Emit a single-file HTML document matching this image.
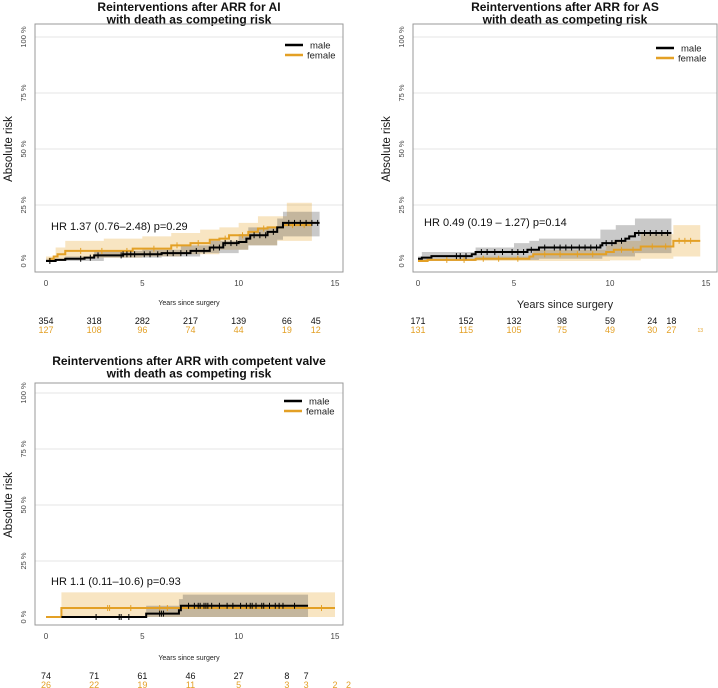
<!DOCTYPE html>
<html><head><meta charset="utf-8"><style>
body{margin:0;background:#fff}
svg{display:block;font-family:"Liberation Sans",sans-serif}
</style></head><body>
<svg id="c" width="718" height="688" viewBox="0 0 718 688"></svg>
<script>
// ---- Panel 1 data (AI) ----
const p1MaleSteps=[[0,0],[0.5,0.5],[1,1],[2,1.5],[2.5,2.5],[4,3],[6,3.5],[7.5,4.5],[8.5,6],[9.2,8],[10,8.5],[10.4,10],[10.6,11.5],[11.5,13],[12,15],[12.3,17],[14.2,17]];
const p1FemaleSteps=[[0,0],[0.2,1],[0.4,2],[0.6,3],[1,4.5],[3,4.5],[4.5,5.5],[6.5,7],[7.5,8],[8.5,9.5],[9,10],[9.5,11.5],[10.5,13],[11,14.5],[11.5,15],[12.3,16],[13.8,16]];
const p1MaleUpper=[[0,1],[1,2],[2.5,4.5],[5,5],[7,7],[8.5,9],[10,12],[10.5,15],[12,19],[12.3,22],[14.2,22]];
const p1MaleLower=[[0,0],[3,1.5],[6,2],[8,3.5],[10,5],[10.5,7],[12,9.5],[12.3,11],[14.2,11]];
const p1FemaleUpper=[[0,2],[0.5,6],[1,9],[3,10],[5,11],[6.5,12.5],[8,14],[9,15],[10,17],[11,20],[12.5,26],[13.8,26]];
const p1FemaleLower=[[0,0],[1,1.5],[5,2],[7,3],[9,5],[10.5,7],[12,9],[13.8,9]];
const p1MaleCens=[0.2,1.8,2.3,2.7,3.9,4.0,4.2,4.4,4.6,5.1,5.4,5.8,6.3,6.6,7.0,7.3,7.8,8.2,8.7,9.0,9.3,9.6,9.9,10.8,11.1,11.4,11.8,12.6,12.9,13.2,13.5,13.8,14.1];
const p1FemaleCens=[1.8,2.9,4.2,5.6,6.8,7.9,9.3,10.2,11.3,12.8,13.4];
const p1Times=[0,2.5,5,7.5,10,12.5,14];
const p1MaleRisk=["354","318","282","217","139","66","45"];
const p1FemaleRisk=["127","108","96","74","44","19","12"];
// ---- Panel 2 data (AS) ----
const p2MaleSteps=[[0,1],[0.2,1.5],[0.7,2.2],[2.8,3],[3,4],[5.7,5],[6.3,6],[9.5,7],[9.6,8],[10.3,9],[10.8,10],[11,11],[11.3,12.5],[13.2,12.5]];
const p2FemaleSteps=[[0,0],[0.5,0.5],[3,1],[5.8,2],[6,3],[9.8,4],[10.2,5],[11.6,6.5],[13.3,9],[14.7,9]];
const p2MaleUpper=[[0,2],[0.2,4],[3,6],[5,8],[5.8,9],[6.3,10],[9.5,14],[10.3,16],[11.3,19],[13.2,19]];
const p2MaleLower=[[0,0],[3,0.5],[6.3,1],[9.6,2],[11.3,3.5],[13.2,3.5]];
const p2FemaleUpper=[[0,1],[3,2],[6,5],[9.8,7],[10.2,9],[11.6,12],[13.3,16],[14.7,16]];
const p2FemaleLower=[[0,0],[10,0.3],[11.6,1],[13.3,2],[14.7,2]];
const p2MaleCens=[2,2.2,2.5,3.3,3.6,4,4.4,4.9,5.2,5.5,5.9,6.6,7.1,7.4,7.7,8,8.4,8.7,9,9.3,9.8,10.1,10.6,11.5,11.8,12.1,12.4,12.7,13];
const p2FemaleCens=[1.5,2.4,3.4,4.2,5.2,6.6,7.4,8.3,9.1,10.6,11.2,12.2,12.9,13.6,13.9,14.2];
const p2Times=[0,2.5,5,7.5,10,12.2,13.2];
const p2MaleRisk=["171","152","132","98","59","24","18"];
const p2FemaleRisk=["131","115","105","75","49","30","27"];
// ---- Panel 3 data (competent valve) ----
const p3MaleSteps=[[0.8,0],[5.2,1.5],[6.9,3],[7,5],[13.6,5]];
const p3FemaleSteps=[[0,0],[0.8,4],[15,4]];
const p3MaleUpper=[[5.2,5],[6.9,8],[7.1,10],[13.6,10]];
const p3MaleLower=[[5.2,0],[13.6,0]];
const p3FemaleUpper=[[0.8,11],[15,11]];
const p3FemaleLower=[[0.8,0],[15,0]];
const p3MaleCens=[2.6,3.8,3.9,4.3,5.9,6.0,6.1,7.4,7.7,7.9,8.0,8.2,8.3,8.4,8.6,9.0,9.4,9.7,10.1,10.4,10.6,10.7,10.9,11.2,11.3,11.6,11.9,12.1,12.3,12.9];
const p3FemaleCens=[3.2,3.3,4.4,5.9,6.3,14.3];
const p3Times=[0,2.5,5,7.5,10,12.5,13.5,15,15.7];
const p3MaleRisk=["74","71","61","46","27","8","7","",""];
const p3FemaleRisk=["26","22","19","11","5","3","3","2","2"];
const yTicks=[0,25,50,75,100];
const xTicks=[0,5,10,15];

const NS="http://www.w3.org/2000/svg";
const svg=document.getElementById('c');
const OR="#E3A025";
function mk(tag,attrs,parent){const e=document.createElementNS(NS,tag);for(const k in attrs)e.setAttribute(k,attrs[k]);(parent||svg).appendChild(e);return e;}

function panel(o){
  const g=mk('g',{});
  
  
  const xs=t=>o.x0+(o.x15-o.x0)*t/15;
  const ys=v=>o.y0+(o.y100-o.y0)*v/100;
  o.title.forEach((t,i)=>{const e=mk('text',{x:(o.bx1+o.bx2)/2,y:o.ty+i*12.5,'text-anchor':'middle','font-size':12,'font-weight':'bold',fill:'#111'},g);e.textContent=t;
    });
  yTicks.forEach(v=>{if(v>0){const l=mk('line',{x1:o.bx1,x2:o.bx2,y1:ys(v),y2:ys(v),stroke:'#e4e4e4','stroke-width':1},g);
    }
    const t=mk('text',{transform:`translate(${o.bx1-9},${ys(v)}) rotate(-90)`,'text-anchor':'middle','font-size':7.5,fill:'#444'},g);t.textContent=v+' %';
    });
  const box=mk('rect',{x:o.bx1,y:o.by1,width:o.bx2-o.bx1,height:o.by2-o.by1,fill:'none',stroke:'#999','stroke-width':1},g);
  
  const yl=mk('text',{transform:`translate(${o.bx1-23},${(ys(0)+ys(100))/2}) rotate(-90)`,'text-anchor':'middle','font-size':11.5,fill:'#111'},g);yl.textContent='Absolute risk';
  
  xTicks.forEach(v=>{const t=mk('text',{x:xs(v),y:o.by2+14,'text-anchor':'middle','font-size':8,fill:'#444'},g);t.textContent=v;
    });
  const xl=mk('text',{x:(o.bx1+o.bx2)/2,y:o.xly,'text-anchor':'middle','font-size':o.xlfs,fill:'#222'},g);xl.textContent='Years since surgery';
  
  function band(up,lo,fill,nm){
    let d='M'+xs(up[0][0])+','+ys(up[0][1]);
    for(let i=1;i<up.length;i++){d+='H'+xs(up[i][0])+'V'+ys(up[i][1]);}
    const lr=lo.slice().reverse();
    d+='V'+ys(lr[0][1]);
    for(let i=0;i<lr.length-1;i++){d+='H'+xs(lr[i][0])+'V'+ys(lr[i+1][1]);}
    d+='H'+xs(lr[lr.length-1][0])+'Z';
    const p=mk('path',{d:d,fill:fill},g);
  }
  function stepVal(st,t){let v=st[0][1];for(const s of st){if(s[0]<=t)v=s[1];}return v;}
  function curve(st,cens,col,nm){
    let d='M'+xs(st[0][0])+','+ys(st[0][1]);
    for(let i=1;i<st.length;i++){d+='H'+xs(st[i][0])+'V'+ys(st[i][1]);}
    const p=mk('path',{d:d,fill:'none',stroke:col,'stroke-width':2},g);
    cens.forEach(t=>{const y=ys(stepVal(st,t));const l=mk('line',{x1:xs(t),x2:xs(t),y1:y-3,y2:y+3,stroke:col,'stroke-width':1},g);
      });
  }
  band(o.fu,o.fl,'rgba(230,160,37,0.28)','female-ci-band');
  band(o.mu,o.ml,'rgba(60,60,60,0.28)','male-ci-band');
  curve(o.fs,o.fc,OR,'female-curve');
  curve(o.ms,o.mc,'#000','male-curve');
  const hr=mk('text',{x:o.hrx,y:o.hry,'font-size':11,fill:'#111'},g);hr.textContent=o.hr;
  
  [['male','#000',0],['female',OR,1]].forEach(([n,c,i])=>{
    const l=mk('line',{x1:o.lx,x2:o.lx+18,y1:o.ly+i*10,y2:o.ly+i*10,stroke:c,'stroke-width':2.5},g);
    
    const t=mk('text',{x:o.lx+(i?22:25),y:o.ly+i*10+3.5,'font-size':9.5,fill:'#222'},g);t.textContent=n;
    });
  o.times.forEach((t,i)=>{
    const a=mk('text',{x:xs(t),y:o.ry,'text-anchor':'middle','font-size':9,fill:'#111'},g);a.textContent=o.mr[i];
    
    const b=mk('text',{x:xs(t),y:o.ry+9,'text-anchor':'middle','font-size':9,fill:OR},g);b.textContent=o.fr[i];
    });
  if(o.extra){const e=mk('text',{x:xs(14.7),y:o.ry+8,'text-anchor':'middle','font-size':5,fill:OR},g);e.textContent=o.extra;
    }
}
panel({name:'panel-ai',title:['Reinterventions after ARR for AI','with death as competing risk'],ty:11,
 bx1:35,bx2:343,by1:24,by2:272,x0:46,x15:335,y0:261,y100:37,xly:305,xlfs:7,
 ms:p1MaleSteps,fs:p1FemaleSteps,mu:p1MaleUpper,ml:p1MaleLower,fu:p1FemaleUpper,fl:p1FemaleLower,mc:p1MaleCens,fc:p1FemaleCens,
 hr:'HR 1.37 (0.76\u20132.48) p=0.29',hrx:51,hry:230,lx:285,ly:45,times:p1Times,mr:p1MaleRisk,fr:p1FemaleRisk,ry:324});
panel({name:'panel-as',title:['Reinterventions after ARR for AS','with death as competing risk'],ty:11,
 bx1:413,bx2:717,by1:24,by2:272,x0:418,x15:706,y0:261,y100:37,xly:308,xlfs:11,
 ms:p2MaleSteps,fs:p2FemaleSteps,mu:p2MaleUpper,ml:p2MaleLower,fu:p2FemaleUpper,fl:p2FemaleLower,mc:p2MaleCens,fc:p2FemaleCens,
 hr:'HR 0.49 (0.19 \u2013 1.27) p=0.14',hrx:424,hry:226,lx:656,ly:48,times:p2Times,mr:p2MaleRisk,fr:p2FemaleRisk,ry:324,extra:'13'});
panel({name:'panel-competent-valve',title:['Reinterventions after ARR with competent valve','with death as competing risk'],ty:365,
 bx1:35,bx2:343,by1:383,by2:625,x0:46,x15:335,y0:617,y100:393,xly:660,xlfs:7,
 ms:p3MaleSteps,fs:p3FemaleSteps,mu:p3MaleUpper,ml:p3MaleLower,fu:p3FemaleUpper,fl:p3FemaleLower,mc:p3MaleCens,fc:p3FemaleCens,
 hr:'HR 1.1 (0.11\u201310.6) p=0.93',hrx:51,hry:585,lx:284,ly:401,times:p3Times,mr:p3MaleRisk,fr:p3FemaleRisk,ry:679});
</script>
</body></html>
